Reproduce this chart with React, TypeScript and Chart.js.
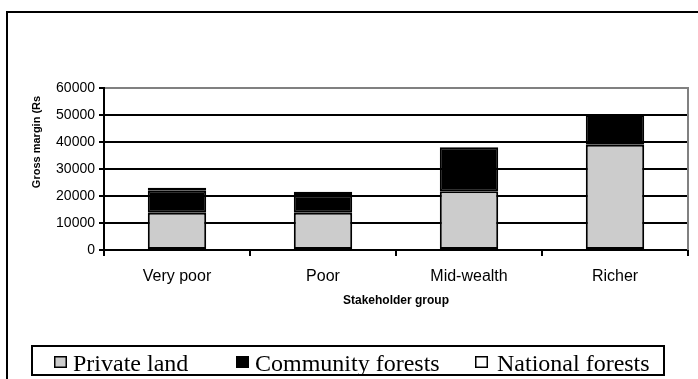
import { useEffect, useRef } from "react";
import { Chart, registerables } from "chart.js";

Chart.register(...registerables);

// ---- data ----
const categories = ["Very poor", "Poor", "Mid-wealth", "Richer"];
const privateLand = [13800, 13800, 21800, 39000];
const communityForests = [8100, 6500, 16300, 11000];
const nationalForests = [1200, 1300, 0, 0];
const seriesLabels = ["Private land", "Community forests", "National forests"];
const yTickValues = [0, 10000, 20000, 30000, 40000, 50000, 60000];
const yAxisTitle = "Gross margin (Rs";
const xAxisTitle = "Stakeholder group";

const SANS = "'Liberation Sans', Arial, sans-serif";
const SERIF = "'Liberation Serif', 'Times New Roman', serif";

const seriesColors = ["#cccccc", "#000000", "#ffffff"];

const framePlugin = {
  id: "framePlugin",
  afterDraw(chart: any) {
    const ctx = chart.ctx;
    const area = chart.chartArea;
    ctx.save();
    // gray plot border (right side)
    ctx.strokeStyle = "#808080";
    ctx.lineWidth = 2;
    ctx.beginPath();
    ctx.moveTo(area.right, area.top - 1);
    ctx.lineTo(area.right, area.bottom);
    ctx.stroke();

    // outer chart frame
    ctx.strokeStyle = "#000";
    ctx.lineWidth = 2;
    ctx.beginPath();
    ctx.moveTo(7, chart.height);
    ctx.lineTo(7, 12);
    ctx.lineTo(chart.width, 12);
    ctx.stroke();

    // y axis title
    ctx.fillStyle = "#000";
    ctx.font = `bold 11px ${SANS}`;
    ctx.textAlign = "center";
    ctx.textBaseline = "middle";
    ctx.translate(37, 142);
    ctx.rotate(-Math.PI / 2);
    ctx.fillText(yAxisTitle, 0, 0);
    ctx.setTransform(1, 0, 0, 1, 0, 0);

    // legend box
    ctx.strokeStyle = "#000";
    ctx.lineWidth = 2;
    ctx.strokeRect(32, 346, 632, 29);
    const boxX = [54, 236, 475];
    const textX = [73, 255, 497];
    ctx.font = `24px ${SERIF}`;
    ctx.textAlign = "left";
    ctx.textBaseline = "alphabetic";
    chart.data.datasets.forEach((ds: any, i: number) => {
      ctx.fillStyle = ds.backgroundColor;
      ctx.fillRect(boxX[i], 356, 13, 12);
      ctx.lineWidth = 1.5;
      ctx.strokeStyle = "#000";
      ctx.strokeRect(boxX[i] + 0.75, 356.75, 11.5, 10.5);
      ctx.fillStyle = "#000";
      ctx.fillText(ds.label, textX[i], 371);
    });
    ctx.restore();
  },
};

export default function App() {
  const ref = useRef<HTMLCanvasElement>(null);
  useEffect(() => {
    document.body.style.margin = "0";
    const canvas = ref.current!;
    const chart = new Chart(canvas, {
      type: "bar",
      data: {
        labels: categories,
        datasets: [privateLand, communityForests, nationalForests].map((d, i) => ({
          label: seriesLabels[i],
          data: d,
          backgroundColor: seriesColors[i],
          borderColor: "#000",
          borderWidth: 2,
          borderSkipped: false,
          barPercentage: 0.4,
          categoryPercentage: 1,
        })),
      },
      options: {
        responsive: false,
        animation: false,
        devicePixelRatio: 1,
        layout: { padding: { top: 88, right: 10, bottom: 0, left: 0 } },
        plugins: {
          legend: { display: false },
          tooltip: { enabled: false },
        },
        scales: {
          x: {
            stacked: true,
            offset: true,
            grid: {
              offset: true,
              drawOnChartArea: false,
              drawTicks: true,
              tickLength: 6,
              color: "#000",
              lineWidth: 2,
            },
            border: { display: true, color: "#000", width: 2 },
            ticks: {
              color: "#000",
              font: { family: SANS, size: 16 },
              padding: 11,
              maxRotation: 0,
              autoSkip: false,
            },
            title: {
              display: true,
              text: xAxisTitle,
              color: "#000",
              font: { family: SANS, size: 12, weight: "bold" },
              padding: { top: 71, bottom: 71 },
            },
            afterFit(scale: any) {
              scale.height = 129;
            },
          },
          y: {
            stacked: true,
            min: 0,
            max: 60000,
            afterBuildTicks(scale: any) {
              scale.ticks = yTickValues.map((v) => ({ value: v }));
            },
            grid: {
              color: (c: any) => (c.tick && c.tick.value === 60000 ? "#808080" : "#000"),
              tickColor: "#000",
              lineWidth: 2,
              tickLength: 5,
              drawTicks: true,
            },
            border: { display: true, color: "#000", width: 2 },
            ticks: {
              color: "#000",
              font: { family: SANS, size: 14 },
              padding: 4,
              callback: (v: any) => String(v),
            },
            afterFit(scale: any) {
              scale.width = 104;
            },
          },
        },
      },
      plugins: [framePlugin],
    });
    return () => chart.destroy();
  }, []);
  return <canvas ref={ref} width={698} height={379} style={{ display: "block" }} />;
}
